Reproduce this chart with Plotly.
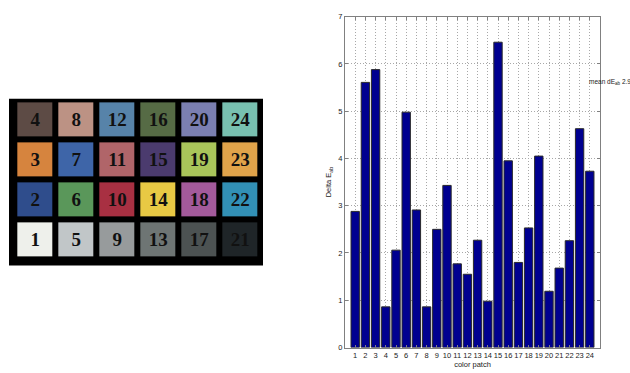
import plotly.graph_objects as go

# Colour checker patch numbers and their sRGB colours
patch_ids = list(range(1, 25))
patch_colors = [
    "#eef0eb", "#2f4d8c", "#d6843e", "#5d4b45", "#c1c6c8", "#5a975a",
    "#3e65a8", "#bc9284", "#979b9c", "#a83042", "#b06569", "#5783a9",
    "#6e7574", "#e8c944", "#4b3b6e", "#566b45", "#4c5252", "#a35a9b",
    "#a9c55a", "#7b7fb1", "#1f2528", "#3290b5", "#e0a34a", "#78c0b0",
]

# Colour difference per patch
delta_e = [2.88, 5.61, 5.88, 0.86, 2.06, 4.98, 2.91, 0.86, 2.50, 3.43, 1.77, 1.55,
           2.27, 0.98, 6.46, 3.95, 1.80, 2.53, 4.05, 1.19, 1.68, 2.26, 4.63, 3.73]
y_ticks = list(range(0, 8))

W, H = 630, 373
n_rows, n_cols = 4, 6

# patch n sits in column (n-1)//4, row (n-1)%4 counted from the bottom
z = [[None] * n_cols for _ in range(n_rows)]
for n in patch_ids:
    z[(n - 1) % n_rows][(n - 1) // n_rows] = n

# discrete colour scale: one flat band per patch number
cs = []
for i, c in enumerate(patch_colors):
    cs.append([i / 24, c])
    cs.append([(i + 1) / 24, c])

fig = go.Figure()

fig.add_trace(go.Heatmap(
    z=z, x=list(range(n_cols)), y=list(range(n_rows)),
    colorscale=cs, zmin=0.5, zmax=24.5, showscale=False,
    xgap=6, ygap=6, hoverinfo="skip",
    texttemplate="<b>%{z}</b>",
    textfont=dict(family="Liberation Serif", size=19, color="#111111"),
    xaxis="x2", yaxis="y2",
))

fig.add_trace(go.Bar(
    x=patch_ids, y=delta_e, width=0.82,
    marker=dict(color="#000090", line=dict(color="#2a2a2a", width=1)),
    xaxis="x", yaxis="y",
))

mean_val = sum(delta_e) / len(delta_e)
fig.add_annotation(
    x=23.75, y=5.62, xref="x", yref="y", xanchor="left", yanchor="middle",
    text=f"mean dE<sub>ab</sub> {mean_val:.2f}", showarrow=False,
    font=dict(family="Liberation Sans Narrow, Liberation Sans", size=6.5, color="#222222"),
)

# black card behind the patches
fig.add_shape(type="rect", xref="paper", yref="paper",
              x0=9 / W, x1=263 / W, y0=1 - 268 / H, y1=1 - 97 / H,
              fillcolor="black", line=dict(width=0), layer="below")

axis_font = dict(family="Liberation Sans", size=7.5, color="#222222")
grid_style = dict(showgrid=True, gridcolor="#a8a8a8", griddash="1px,2px", gridwidth=1)
fig.update_layout(
    width=W, height=H, margin=dict(l=0, r=0, t=0, b=0),
    paper_bgcolor="white", plot_bgcolor="white", showlegend=False,
    xaxis=dict(
        domain=[345 / W, 600 / W], range=[0, 25],
        tickmode="array", tickvals=patch_ids, ticktext=[str(v) for v in patch_ids],
        tickangle=0,
        ticks="inside", ticklen=3, tickcolor="#808080",
        showline=True, linecolor="#808080", mirror="ticks",
        zeroline=False, tickfont=axis_font,
        title=dict(text="color patch", font=axis_font, standoff=3),
        **grid_style,
    ),
    yaxis=dict(
        domain=[1 - 352 / H, 1 - 13 / H], range=[0, 7],
        tickmode="array", tickvals=y_ticks,
        ticks="inside", ticklen=3, tickcolor="#808080",
        showline=True, linecolor="#808080", mirror="ticks",
        zeroline=False, tickfont=axis_font,
        title=dict(text="Delta E<sub>ab</sub>", font=axis_font, standoff=5),
        **grid_style,
    ),
    xaxis2=dict(domain=[14.3 / W, 260.3 / W], range=[-0.5, 5.5], visible=False,
                anchor="y2"),
    yaxis2=dict(domain=[1 - 261.7 / H, 1 - 97.7 / H], range=[-0.5, 3.5], visible=False,
                anchor="x2"),
)

fig.write_html("out.html")
